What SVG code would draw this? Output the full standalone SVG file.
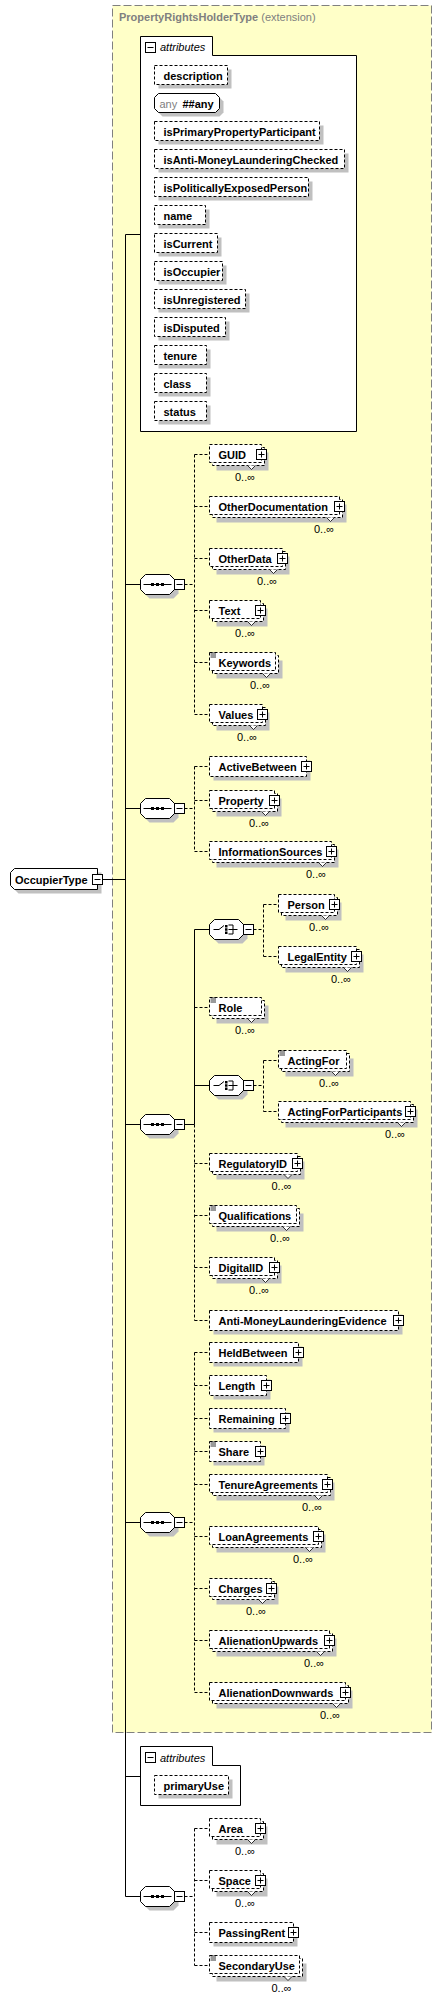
<svg xmlns="http://www.w3.org/2000/svg" width="442" height="2000" viewBox="0 0 442 2000">
<style>
.t{font-family:"Liberation Sans",Arial,sans-serif;font-weight:bold;font-size:11px;fill:#000}
.m{font-family:"Liberation Sans",Arial,sans-serif;font-size:11px;fill:#000}
.ti{font-family:"Liberation Sans",Arial,sans-serif;font-style:italic;font-size:11px;fill:#000}
.sh{fill:#c0c0c0}
.eb{fill:#fff;stroke:#000;stroke-dasharray:3,2}
.sb{fill:#fff;stroke:#000}
.c{fill:none;stroke:#000}
.cd{fill:none;stroke:#000;stroke-dasharray:3,2}
.nt{fill:#fff;stroke:#000;stroke-width:0.8}
.eq{fill:none;stroke:#000;stroke-width:0.8}
</style>
<defs>
<g id="plus"><rect x="-5" y="-5" width="10" height="10" fill="#fff" stroke="#000"/><path d="M-3,0H3M0,-3V3" stroke="#000"/></g>
<g id="minus"><rect x="-5" y="-5" width="10" height="10" fill="#fff" stroke="#000"/><path d="M-3,0H3" stroke="#000"/></g>
<g id="seq">
<path class="sh" d="M9,-6H33L38,-1V9L33,14H9L4,9V-1Z"/>
<path class="sb" d="M5,-10H29L34,-5V5L29,10H5L0,5V-5Z"/>
<path class="c" d="M3,0H31"/>
<rect x="10.5" y="-1.5" width="3" height="3"/><rect x="15.5" y="-1.5" width="3" height="3"/><rect x="20.5" y="-1.5" width="3" height="3"/>
<use href="#minus" x="39" y="0"/>
</g>
<g id="choice">
<path class="sh" d="M9,-6H33L38,-1V9L33,14H9L4,9V-1Z"/>
<path class="sb" d="M5,-10H29L34,-5V5L29,10H5L0,5V-5Z"/>
<path class="c" d="M4,0H9.5L14.5,-4M19,-4.5H23.5V4.5H19M19,0H28"/>
<rect x="15.5" y="-4.5" width="2.5" height="2.5"/><rect x="15.5" y="-1.25" width="2.5" height="2.5"/><rect x="15.5" y="2" width="2.5" height="2.5"/>
<use href="#minus" x="39" y="0"/>
</g>
</defs>

<g id="extension">
<rect x="112.5" y="5.5" width="319" height="1727" fill="#ffffc8" stroke="#808080" stroke-dasharray="8,3"/>
<text x="119" y="21" class="t" fill="#808080" style="fill:#808080">PropertyRightsHolderType<tspan style="font-weight:normal"> (extension)</tspan></text>
</g>

<g id="connectors">
<path class="c" d="M125.5,234.5V1896.5M125.5,234.5H140.5M102.5,879.5H125.5M125.5,584.5H140.5M125.5,808.5H140.5M125.5,1124.5H140.5M125.5,1522.5H140.5M125.5,1776.5H140.5M125.5,1896.5H140.5"/>
<path class="cd" d="M184.5,584.5H194.5M194.5,454.5V714.5M194.5,454.5H209.5M194.5,506.5H209.5M194.5,558.5H209.5M194.5,610.5H209.5M194.5,662.5H209.5M194.5,714.5H209.5"/>
<path class="cd" d="M184.5,808.5H194.5M194.5,766.5V851.5M194.5,766.5H209.5M194.5,800.5H209.5M194.5,851.5H209.5"/>
<path class="c" d="M184.5,1124.5H194.5M194.5,929.5V1124.5M194.5,929.5H209.5M194.5,1085.5H209.5"/>
<path class="cd" d="M194.5,1007.5H209.5M194.5,1124.5V1320.5M194.5,1163.5H209.5M194.5,1215.5H209.5M194.5,1267.5H209.5M194.5,1320.5H209.5"/>
<path class="cd" d="M253.5,929.5H263.5M263.5,904.5V956.5M263.5,904.5H278.5M263.5,956.5H278.5"/>
<path class="cd" d="M253.5,1085.5H263.5M263.5,1060.5V1111.5M263.5,1060.5H278.5M263.5,1111.5H278.5"/>
<path class="cd" d="M184.5,1522.5H194.5M194.5,1352.5V1692.5M194.5,1352.5H209.5M194.5,1385.5H209.5M194.5,1418.5H209.5M194.5,1451.5H209.5M194.5,1484.5H209.5M194.5,1536.5H209.5M194.5,1588.5H209.5M194.5,1640.5H209.5M194.5,1692.5H209.5"/>
<path class="cd" d="M184.5,1896.5H194.5M194.5,1828.5V1965.5M194.5,1828.5H209.5M194.5,1880.5H209.5M194.5,1932.5H209.5M194.5,1965.5H209.5"/>
</g>

<g id="OccupierType">
<path class="sh" d="M18.5,872.5H101.5V893.5H18.5L14.5,889.5V876.5Z"/>
<path class="sb" d="M14.5,868.5H97.5V889.5H14.5L10.5,885.5V872.5Z"/>
<text class="t" x="15" y="883.5">OccupierType</text>
<use href="#minus" x="97.5" y="879.5"/>
</g>

<g id="attributes1">
<path class="sb" d="M140.5,431.5V36.5H212.5V55.5H356.5V431.5Z"/>
<use href="#minus" x="150.5" y="47.5"/>
<text class="ti" x="160" y="51">attributes</text>
<g id="a-description"><rect class="sh" x="158.5" y="69.5" width="73" height="19"/><rect class="eb" x="154.5" y="65.5" width="73" height="19"/><text class="t" x="163.5" y="79.5">description</text></g>
<g id="a-any"><path class="sh" d="M162.5,97.5H219.5L223.5,101.5V112.5L219.5,116.5H162.5L158.5,112.5V101.5Z"/><path class="sb" d="M158.5,93.5H215.5L219.5,97.5V108.5L215.5,112.5H158.5L154.5,108.5V97.5Z"/><text class="m" x="159.5" y="107.5" style="fill:#808080">any</text><text class="t" x="182.5" y="107.5">##any</text></g>
<g id="a-isPrimaryPropertyParticipant"><rect class="sh" x="158.5" y="125.5" width="165" height="19"/><rect class="eb" x="154.5" y="121.5" width="165" height="19"/><text class="t" x="163.5" y="135.5">isPrimaryPropertyParticipant</text></g>
<g id="a-isAntiMoneyLaunderingChecked"><rect class="sh" x="158.5" y="153.5" width="190" height="19"/><rect class="eb" x="154.5" y="149.5" width="190" height="19"/><text class="t" x="163.5" y="163.5">isAnti-MoneyLaunderingChecked</text></g>
<g id="a-isPoliticallyExposedPerson"><rect class="sh" x="158.5" y="181.5" width="154" height="19"/><rect class="eb" x="154.5" y="177.5" width="154" height="19"/><text class="t" x="163.5" y="191.5">isPoliticallyExposedPerson</text></g>
<g id="a-name"><rect class="sh" x="158.5" y="209.5" width="51" height="19"/><rect class="eb" x="154.5" y="205.5" width="51" height="19"/><text class="t" x="163.5" y="219.5">name</text></g>
<g id="a-isCurrent"><rect class="sh" x="158.5" y="237.5" width="63" height="19"/><rect class="eb" x="154.5" y="233.5" width="63" height="19"/><text class="t" x="163.5" y="247.5">isCurrent</text></g>
<g id="a-isOccupier"><rect class="sh" x="158.5" y="265.5" width="68" height="19"/><rect class="eb" x="154.5" y="261.5" width="68" height="19"/><text class="t" x="163.5" y="275.5">isOccupier</text></g>
<g id="a-isUnregistered"><rect class="sh" x="158.5" y="293.5" width="91" height="19"/><rect class="eb" x="154.5" y="289.5" width="91" height="19"/><text class="t" x="163.5" y="303.5">isUnregistered</text></g>
<g id="a-isDisputed"><rect class="sh" x="158.5" y="321.5" width="71" height="19"/><rect class="eb" x="154.5" y="317.5" width="71" height="19"/><text class="t" x="163.5" y="331.5">isDisputed</text></g>
<g id="a-tenure"><rect class="sh" x="158.5" y="349.5" width="52" height="19"/><rect class="eb" x="154.5" y="345.5" width="52" height="19"/><text class="t" x="163.5" y="359.5">tenure</text></g>
<g id="a-class"><rect class="sh" x="158.5" y="377.5" width="52" height="19"/><rect class="eb" x="154.5" y="373.5" width="52" height="19"/><text class="t" x="163.5" y="387.5">class</text></g>
<g id="a-status"><rect class="sh" x="158.5" y="405.5" width="52" height="19"/><rect class="eb" x="154.5" y="401.5" width="52" height="19"/><text class="t" x="163.5" y="415.5">status</text></g>
</g>

<g id="sequence1"><use href="#seq" x="140.5" y="584.5"/></g>
<g id="GUID"><rect class="sh" x="216.5" y="452.5" width="52" height="18"/><rect class="eb" x="212.5" y="447.5" width="52" height="18"/><rect class="eb" x="209.5" y="444.5" width="52" height="18"/><path class="nt" d="M247.5,465.5L251.5,469.5L255.5,465.5"/><text class="t" x="218.5" y="458.5">GUID</text><use href="#plus" x="261.5" y="454.5"/><text class="m" x="235" y="481">0..∞</text></g>
<g id="OtherDocumentation"><rect class="sh" x="216.5" y="504.5" width="130" height="18"/><rect class="eb" x="212.5" y="499.5" width="130" height="18"/><rect class="eb" x="209.5" y="496.5" width="130" height="18"/><path class="nt" d="M326.5,517.5L330.5,521.5L334.5,517.5"/><text class="t" x="218.5" y="510.5">OtherDocumentation</text><use href="#plus" x="339.5" y="506.5"/><text class="m" x="314" y="533">0..∞</text></g>
<g id="OtherData"><rect class="sh" x="216.5" y="556.5" width="73" height="18"/><rect class="eb" x="212.5" y="551.5" width="73" height="18"/><rect class="eb" x="209.5" y="548.5" width="73" height="18"/><path class="nt" d="M269.5,569.5L273.5,573.5L277.5,569.5"/><text class="t" x="218.5" y="562.5">OtherData</text><use href="#plus" x="282.5" y="558.5"/><text class="m" x="257" y="585">0..∞</text></g>
<g id="Text"><rect class="sh" x="216.5" y="608.5" width="51" height="18"/><rect class="eb" x="212.5" y="603.5" width="51" height="18"/><rect class="eb" x="209.5" y="600.5" width="51" height="18"/><path class="nt" d="M247.5,621.5L251.5,625.5L255.5,621.5"/><text class="t" x="218.5" y="614.5">Text</text><use href="#plus" x="260.5" y="610.5"/><text class="m" x="235" y="637">0..∞</text></g>
<g id="Keywords"><rect class="sh" x="216.5" y="660.5" width="66" height="18"/><rect class="eb" x="212.5" y="655.5" width="66" height="18"/><rect class="eb" x="209.5" y="652.5" width="66" height="18"/><path class="nt" d="M262.5,673.5L266.5,677.5L270.5,673.5"/><path class="eq" d="M210.5,653H216M210.5,655H216M210.5,657H216"/><text class="t" x="218.5" y="666.5">Keywords</text><text class="m" x="250" y="689">0..∞</text></g>
<g id="Values"><rect class="sh" x="216.5" y="712.5" width="53" height="18"/><rect class="eb" x="212.5" y="707.5" width="53" height="18"/><rect class="eb" x="209.5" y="704.5" width="53" height="18"/><path class="nt" d="M249.5,725.5L253.5,729.5L257.5,725.5"/><text class="t" x="218.5" y="718.5">Values</text><use href="#plus" x="262.5" y="714.5"/><text class="m" x="237" y="741">0..∞</text></g>

<g id="sequence2"><use href="#seq" x="140.5" y="808.5"/></g>
<g id="ActiveBetween"><rect class="sh" x="213.5" y="760.5" width="97" height="20"/><rect class="eb" x="209.5" y="756.5" width="97" height="20"/><text class="t" x="218.5" y="770.5">ActiveBetween</text><use href="#plus" x="306.5" y="766.5"/></g>
<g id="Property"><rect class="sh" x="216.5" y="798.5" width="65" height="18"/><rect class="eb" x="212.5" y="793.5" width="65" height="18"/><rect class="eb" x="209.5" y="790.5" width="65" height="18"/><path class="nt" d="M261.5,811.5L265.5,815.5L269.5,811.5"/><text class="t" x="218.5" y="804.5">Property</text><use href="#plus" x="274.5" y="800.5"/><text class="m" x="249" y="827">0..∞</text></g>
<g id="InformationSources"><rect class="sh" x="216.5" y="849.5" width="122" height="18"/><rect class="eb" x="212.5" y="844.5" width="122" height="18"/><rect class="eb" x="209.5" y="841.5" width="122" height="18"/><path class="nt" d="M318.5,862.5L322.5,866.5L326.5,862.5"/><text class="t" x="218.5" y="855.5">InformationSources</text><use href="#plus" x="331.5" y="851.5"/><text class="m" x="306" y="878">0..∞</text></g>

<g id="sequence3"><use href="#seq" x="140.5" y="1124.5"/></g>
<g id="choice1"><use href="#choice" x="209.5" y="929.5"/></g>
<g id="Person"><rect class="sh" x="285.5" y="902.5" width="56" height="18"/><rect class="eb" x="281.5" y="897.5" width="56" height="18"/><rect class="eb" x="278.5" y="894.5" width="56" height="18"/><path class="nt" d="M321.5,915.5L325.5,919.5L329.5,915.5"/><text class="t" x="287.5" y="908.5">Person</text><use href="#plus" x="334.5" y="904.5"/><text class="m" x="309" y="931">0..∞</text></g>
<g id="LegalEntity"><rect class="sh" x="285.5" y="954.5" width="78" height="18"/><rect class="eb" x="281.5" y="949.5" width="78" height="18"/><rect class="eb" x="278.5" y="946.5" width="78" height="18"/><path class="nt" d="M343.5,967.5L347.5,971.5L351.5,967.5"/><text class="t" x="287.5" y="960.5">LegalEntity</text><use href="#plus" x="356.5" y="956.5"/><text class="m" x="331" y="983">0..∞</text></g>
<g id="Role"><rect class="sh" x="216.5" y="1005.5" width="52" height="18"/><rect class="eb" x="212.5" y="1000.5" width="52" height="18"/><rect class="eb" x="209.5" y="997.5" width="52" height="18"/><path class="nt" d="M247.5,1018.5L251.5,1022.5L255.5,1018.5"/><path class="eq" d="M210.5,998H216M210.5,1000H216M210.5,1002H216"/><text class="t" x="218.5" y="1011.5">Role</text><text class="m" x="235" y="1034">0..∞</text></g>
<g id="choice2"><use href="#choice" x="209.5" y="1085.5"/></g>
<g id="ActingFor"><rect class="sh" x="285.5" y="1058.5" width="68" height="18"/><rect class="eb" x="281.5" y="1053.5" width="68" height="18"/><rect class="eb" x="278.5" y="1050.5" width="68" height="18"/><path class="nt" d="M331.5,1071.5L335.5,1075.5L339.5,1071.5"/><path class="eq" d="M279.5,1051H285M279.5,1053H285M279.5,1055H285"/><text class="t" x="287.5" y="1064.5">ActingFor</text><text class="m" x="319" y="1087">0..∞</text></g>
<g id="ActingForParticipants"><rect class="sh" x="285.5" y="1109.5" width="132" height="18"/><rect class="eb" x="281.5" y="1104.5" width="132" height="18"/><rect class="eb" x="278.5" y="1101.5" width="132" height="18"/><path class="nt" d="M397.5,1122.5L401.5,1126.5L405.5,1122.5"/><text class="t" x="287.5" y="1115.5">ActingForParticipants</text><use href="#plus" x="410.5" y="1111.5"/><text class="m" x="385" y="1138">0..∞</text></g>
<g id="RegulatoryID"><rect class="sh" x="216.5" y="1161.5" width="88" height="18"/><rect class="eb" x="212.5" y="1156.5" width="88" height="18"/><rect class="eb" x="209.5" y="1153.5" width="88" height="18"/><path class="nt" d="M284,1174.5L288,1178.5L292,1174.5"/><text class="t" x="218.5" y="1167.5">RegulatoryID</text><use href="#plus" x="297.5" y="1163.5"/><text class="m" x="271.5" y="1190">0..∞</text></g>
<g id="Qualifications"><rect class="sh" x="216.5" y="1213.5" width="87" height="18"/><rect class="eb" x="212.5" y="1208.5" width="87" height="18"/><rect class="eb" x="209.5" y="1205.5" width="87" height="18"/><path class="nt" d="M282.5,1226.5L286.5,1230.5L290.5,1226.5"/><path class="eq" d="M210.5,1206H216M210.5,1208H216M210.5,1210H216"/><text class="t" x="218.5" y="1219.5">Qualifications</text><text class="m" x="270" y="1242">0..∞</text></g>
<g id="DigitalID"><rect class="sh" x="216.5" y="1265.5" width="65" height="18"/><rect class="eb" x="212.5" y="1260.5" width="65" height="18"/><rect class="eb" x="209.5" y="1257.5" width="65" height="18"/><path class="nt" d="M261.5,1278.5L265.5,1282.5L269.5,1278.5"/><text class="t" x="218.5" y="1271.5">DigitalID</text><use href="#plus" x="274.5" y="1267.5"/><text class="m" x="249" y="1294">0..∞</text></g>
<g id="AntiMoneyLaunderingEvidence"><rect class="sh" x="213.5" y="1314.5" width="189" height="20"/><rect class="eb" x="209.5" y="1310.5" width="189" height="20"/><text class="t" x="218.5" y="1324.5">Anti-MoneyLaunderingEvidence</text><use href="#plus" x="398.5" y="1320.5"/></g>

<g id="sequence4"><use href="#seq" x="140.5" y="1522.5"/></g>
<g id="HeldBetween"><rect class="sh" x="213.5" y="1346.5" width="89" height="20"/><rect class="eb" x="209.5" y="1342.5" width="89" height="20"/><text class="t" x="218.5" y="1356.5">HeldBetween</text><use href="#plus" x="298.5" y="1352.5"/></g>
<g id="Length"><rect class="sh" x="213.5" y="1379.5" width="57" height="20"/><rect class="eb" x="209.5" y="1375.5" width="57" height="20"/><text class="t" x="218.5" y="1389.5">Length</text><use href="#plus" x="266.5" y="1385.5"/></g>
<g id="Remaining"><rect class="sh" x="213.5" y="1412.5" width="76" height="20"/><rect class="eb" x="209.5" y="1408.5" width="76" height="20"/><text class="t" x="218.5" y="1422.5">Remaining</text><use href="#plus" x="285.5" y="1418.5"/></g>
<g id="Share"><rect class="sh" x="213.5" y="1445.5" width="51" height="20"/><rect class="eb" x="209.5" y="1441.5" width="51" height="20"/><path class="eq" d="M210.5,1442H216M210.5,1444H216M210.5,1446H216"/><text class="t" x="218.5" y="1455.5">Share</text><use href="#plus" x="260.5" y="1451.5"/></g>
<g id="TenureAgreements"><rect class="sh" x="216.5" y="1482.5" width="118" height="18"/><rect class="eb" x="212.5" y="1477.5" width="118" height="18"/><rect class="eb" x="209.5" y="1474.5" width="118" height="18"/><path class="nt" d="M314.5,1495.5L318.5,1499.5L322.5,1495.5"/><text class="t" x="218.5" y="1488.5">TenureAgreements</text><use href="#plus" x="327.5" y="1484.5"/><text class="m" x="302" y="1511">0..∞</text></g>
<g id="LoanAgreements"><rect class="sh" x="216.5" y="1534.5" width="109" height="18"/><rect class="eb" x="212.5" y="1529.5" width="109" height="18"/><rect class="eb" x="209.5" y="1526.5" width="109" height="18"/><path class="nt" d="M305.5,1547.5L309.5,1551.5L313.5,1547.5"/><text class="t" x="218.5" y="1540.5">LoanAgreements</text><use href="#plus" x="318.5" y="1536.5"/><text class="m" x="293" y="1563">0..∞</text></g>
<g id="Charges"><rect class="sh" x="216.5" y="1586.5" width="62" height="18"/><rect class="eb" x="212.5" y="1581.5" width="62" height="18"/><rect class="eb" x="209.5" y="1578.5" width="62" height="18"/><path class="nt" d="M258.5,1599.5L262.5,1603.5L266.5,1599.5"/><text class="t" x="218.5" y="1592.5">Charges</text><use href="#plus" x="271.5" y="1588.5"/><text class="m" x="246" y="1615">0..∞</text></g>
<g id="AlienationUpwards"><rect class="sh" x="216.5" y="1638.5" width="120" height="18"/><rect class="eb" x="212.5" y="1633.5" width="120" height="18"/><rect class="eb" x="209.5" y="1630.5" width="120" height="18"/><path class="nt" d="M316.5,1651.5L320.5,1655.5L324.5,1651.5"/><text class="t" x="218.5" y="1644.5">AlienationUpwards</text><use href="#plus" x="329.5" y="1640.5"/><text class="m" x="304" y="1667">0..∞</text></g>
<g id="AlienationDownwards"><rect class="sh" x="216.5" y="1690.5" width="136" height="18"/><rect class="eb" x="212.5" y="1685.5" width="136" height="18"/><rect class="eb" x="209.5" y="1682.5" width="136" height="18"/><path class="nt" d="M332.5,1703.5L336.5,1707.5L340.5,1703.5"/><text class="t" x="218.5" y="1696.5">AlienationDownwards</text><use href="#plus" x="345.5" y="1692.5"/><text class="m" x="320" y="1719">0..∞</text></g>

<g id="attributes2">
<path class="sb" d="M140.5,1805.5V1746.5H212.5V1765.5H240.5V1805.5Z"/>
<use href="#minus" x="150.5" y="1757.5"/>
<text class="ti" x="160" y="1761.5">attributes</text>
<g id="a-primaryUse"><rect class="sh" x="158.5" y="1779.5" width="74" height="19"/><rect class="eb" x="154.5" y="1775.5" width="74" height="19"/><text class="t" x="163.5" y="1789.5">primaryUse</text></g>
</g>

<g id="sequence5"><use href="#seq" x="140.5" y="1896.5"/></g>
<g id="Area"><rect class="sh" x="216.5" y="1826.5" width="51" height="18"/><rect class="eb" x="212.5" y="1821.5" width="51" height="18"/><rect class="eb" x="209.5" y="1818.5" width="51" height="18"/><path class="nt" d="M247.5,1839.5L251.5,1843.5L255.5,1839.5"/><text class="t" x="218.5" y="1832.5">Area</text><use href="#plus" x="260.5" y="1828.5"/><text class="m" x="235" y="1855">0..∞</text></g>
<g id="Space"><rect class="sh" x="216.5" y="1878.5" width="51" height="18"/><rect class="eb" x="212.5" y="1873.5" width="51" height="18"/><rect class="eb" x="209.5" y="1870.5" width="51" height="18"/><path class="nt" d="M247.5,1891.5L251.5,1895.5L255.5,1891.5"/><text class="t" x="218.5" y="1884.5">Space</text><use href="#plus" x="260.5" y="1880.5"/><text class="m" x="235" y="1907">0..∞</text></g>
<g id="PassingRent"><rect class="sh" x="213.5" y="1926.5" width="84" height="20"/><rect class="eb" x="209.5" y="1922.5" width="84" height="20"/><text class="t" x="218.5" y="1936.5">PassingRent</text><use href="#plus" x="293.5" y="1932.5"/></g>
<g id="SecondaryUse"><rect class="sh" x="216.5" y="1963.5" width="90" height="18"/><rect class="eb" x="212.5" y="1958.5" width="90" height="18"/><rect class="eb" x="209.5" y="1955.5" width="90" height="18"/><path class="nt" d="M284,1976.5L288,1980.5L292,1976.5"/><path class="eq" d="M210.5,1956H216M210.5,1958H216M210.5,1960H216"/><text class="t" x="218.5" y="1969.5">SecondaryUse</text><text class="m" x="271.5" y="1992">0..∞</text></g>
</svg>
